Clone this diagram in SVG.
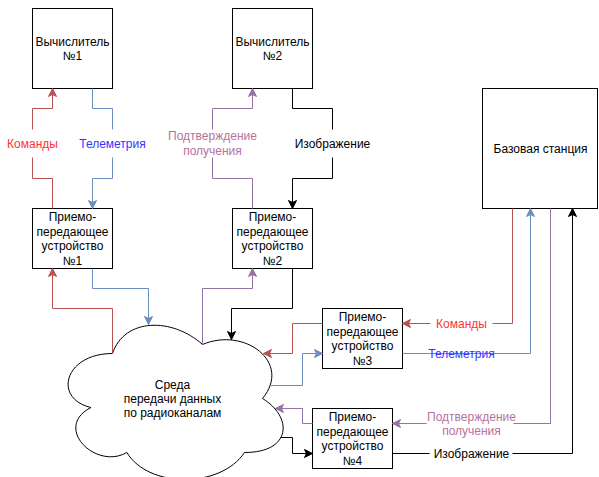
<svg xmlns="http://www.w3.org/2000/svg" width="599" height="477" viewBox="0 0 599 477">
<style>
  .box { fill: #ffffff; stroke: #000000; stroke-width: 1; }
  .t { font-family: "Liberation Sans", Arial, sans-serif; font-size: 12px; fill: #000000; text-anchor: middle; }
  .ln { fill: none; stroke-width: 1; }
  .red { stroke: #b85450; }
  .blue { stroke: #6c8ebf; }
  .purple { stroke: #9673a6; }
  .black { stroke: #000000; }
  .tred { fill: #ff3333; }
  .tblue { fill: #3333ff; }
  .tpurple { fill: #b5739d; }
  .bg { fill: #ffffff; stroke: none; }
</style>
<defs>
  <marker id="ar" markerUnits="userSpaceOnUse" markerWidth="9" markerHeight="9" viewBox="0 0 9 9" refX="8.5" refY="4.5" orient="auto">
    <path d="M8.5,4.5 L0.5,0.5 L2.5,4.5 L0.5,8.5 Z" fill="#b85450" stroke="#b85450" stroke-width="1"/>
  </marker>
  <marker id="ab" markerUnits="userSpaceOnUse" markerWidth="9" markerHeight="9" viewBox="0 0 9 9" refX="8.5" refY="4.5" orient="auto">
    <path d="M8.5,4.5 L0.5,0.5 L2.5,4.5 L0.5,8.5 Z" fill="#6c8ebf" stroke="#6c8ebf" stroke-width="1"/>
  </marker>
  <marker id="ap" markerUnits="userSpaceOnUse" markerWidth="9" markerHeight="9" viewBox="0 0 9 9" refX="8.5" refY="4.5" orient="auto">
    <path d="M8.5,4.5 L0.5,0.5 L2.5,4.5 L0.5,8.5 Z" fill="#9673a6" stroke="#9673a6" stroke-width="1"/>
  </marker>
  <marker id="ak" markerUnits="userSpaceOnUse" markerWidth="9" markerHeight="9" viewBox="0 0 9 9" refX="8.5" refY="4.5" orient="auto">
    <path d="M8.5,4.5 L0.5,0.5 L2.5,4.5 L0.5,8.5 Z" fill="#000000" stroke="#000000" stroke-width="1"/>
  </marker>
</defs>
<rect x="0" y="0" width="599" height="477" fill="#ffffff"/>
<g transform="translate(0.5,0.5)">
  <g id="calc1">
    <rect class="box" x="32" y="8" width="80" height="80"/>
    <text class="t" x="72" y="45">Вычислитель</text>
    <text class="t" x="72" y="59.5">№1</text>
  </g>
  <g id="calc2">
    <rect class="box" x="232" y="8" width="80" height="80"/>
    <text class="t" x="272" y="45">Вычислитель</text>
    <text class="t" x="272" y="59.5">№2</text>
  </g>
  <g id="tx1">
    <rect class="box" x="32" y="208" width="80" height="60"/>
    <text class="t" x="72" y="220.5">Приемо-</text>
    <text class="t" x="72" y="235">передающее</text>
    <text class="t" x="72" y="249.5">устройство</text>
    <text class="t" x="72" y="264">№1</text>
  </g>
  <g id="tx2">
    <rect class="box" x="232" y="208" width="80" height="60"/>
    <text class="t" x="272" y="220.5">Приемо-</text>
    <text class="t" x="272" y="235">передающее</text>
    <text class="t" x="272" y="249.5">устройство</text>
    <text class="t" x="272" y="264">№2</text>
  </g>
  <g id="tx3">
    <rect class="box" x="322" y="308" width="80" height="60"/>
    <text class="t" x="362" y="320.5">Приемо-</text>
    <text class="t" x="362" y="335">передающее</text>
    <text class="t" x="362" y="349.5">устройство</text>
    <text class="t" x="362" y="364">№3</text>
  </g>
  <g id="tx4">
    <rect class="box" x="312" y="408" width="80" height="60"/>
    <text class="t" x="352" y="420.5">Приемо-</text>
    <text class="t" x="352" y="435">передающее</text>
    <text class="t" x="352" y="449.5">устройство</text>
    <text class="t" x="352" y="464">№4</text>
  </g>
  <g id="base">
    <rect class="box" x="482" y="88" width="115" height="120"/>
    <text class="t" x="540" y="152.5">Базовая станция</text>
  </g>
  <g id="cloud">
    <path class="box" d="M112,353 C64,353 52,398 90.4,407 C52,426.8 95.2,470 126.4,452 C148,488 220,488 244,452 C292,452 292,416 262,398 C292,362 244,326 202,344 C172,317 124,317 112,353 Z"/>
    <text class="t" x="172" y="388">Среда</text>
    <text class="t" x="172" y="402">передачи данных</text>
    <text class="t" x="172" y="416.5">по радиоканалам</text>
  </g>
  <g id="connectors">
    <!-- upper left -->
    <path class="ln red" d="M52,208 L52,178 L32,178 L32,108 L52,108 L52,88" marker-end="url(#ar)"/>
    <path class="ln blue" d="M92,88 L92,108 L112,108 L112,178 L92,178 L92,208" marker-end="url(#ab)"/>
    <path class="ln purple" d="M252,208 L252,178 L212,178 L212,108 L252,108 L252,88" marker-end="url(#ap)"/>
    <path class="ln black" d="M292,88 L292,108 L332,108 L332,178 L292,178 L292,208" marker-end="url(#ak)"/>
    <rect class="bg" x="4" y="129" width="56" height="28"/>
    <rect class="bg" x="77" y="129" width="70" height="28"/>
    <rect class="bg" x="165" y="129" width="94" height="28"/>
    <rect class="bg" x="294" y="129" width="76" height="28"/>
    <text class="t tred" x="32" y="147">Команды</text>
    <text class="t tblue" x="112" y="147">Телеметрия</text>
    <text class="t tpurple" x="212" y="139.5">Подтверждение</text>
    <text class="t tpurple" x="212" y="154">получения</text>
    <text class="t" x="332" y="147">Изображение</text>
    <!-- lower to cloud -->
    <path class="ln red" d="M112,353 L112,308 L52,308 L52,268" marker-end="url(#ar)"/>
    <path class="ln blue" d="M92,268 L92,288 L148,288 L148,324" marker-end="url(#ab)"/>
    <path class="ln purple" d="M202,344 L202,288 L252,288 L252,268" marker-end="url(#ap)"/>
    <path class="ln black" d="M292,268 L292,308 L231,308 L231,339" marker-end="url(#ak)"/>
    <!-- right side -->
    <path class="ln red" d="M512,208 L512,323 L402,323" marker-end="url(#ar)"/>
    <path class="ln red" d="M322,323 L292,323 L292,353 L263,353" marker-end="url(#ar)"/>
    <path class="ln blue" d="M269,385 L302,385 L302,353 L322,353" marker-end="url(#ab)"/>
    <path class="ln blue" d="M402,353 L530,353 L530,208" marker-end="url(#ab)"/>
    <path class="ln purple" d="M550,208 L550,423 L392,423" marker-end="url(#ap)"/>
    <path class="ln purple" d="M312,423 L302,423 L302,408 L275,408" marker-end="url(#ap)"/>
    <path class="ln black" d="M280,437 L292,437 L292,453 L312,453" marker-end="url(#ak)"/>
    <path class="ln black" d="M392,453 L572,453 L572,208" marker-end="url(#ak)"/>
    <rect class="bg" x="430" y="316" width="62" height="14"/>
    <rect class="bg" x="426" y="408" width="87" height="30"/>
    <rect class="bg" x="429" y="446" width="83" height="14"/>
    <text class="t tred" x="461" y="327">Команды</text>
    <text class="t tblue" x="461" y="357">Телеметрия</text>
    <text class="t tpurple" x="471" y="420">Подтверждение</text>
    <text class="t tpurple" x="471" y="434.5">получения</text>
    <text class="t" x="471" y="457">Изображение</text>
  </g>
</g>
</svg>
